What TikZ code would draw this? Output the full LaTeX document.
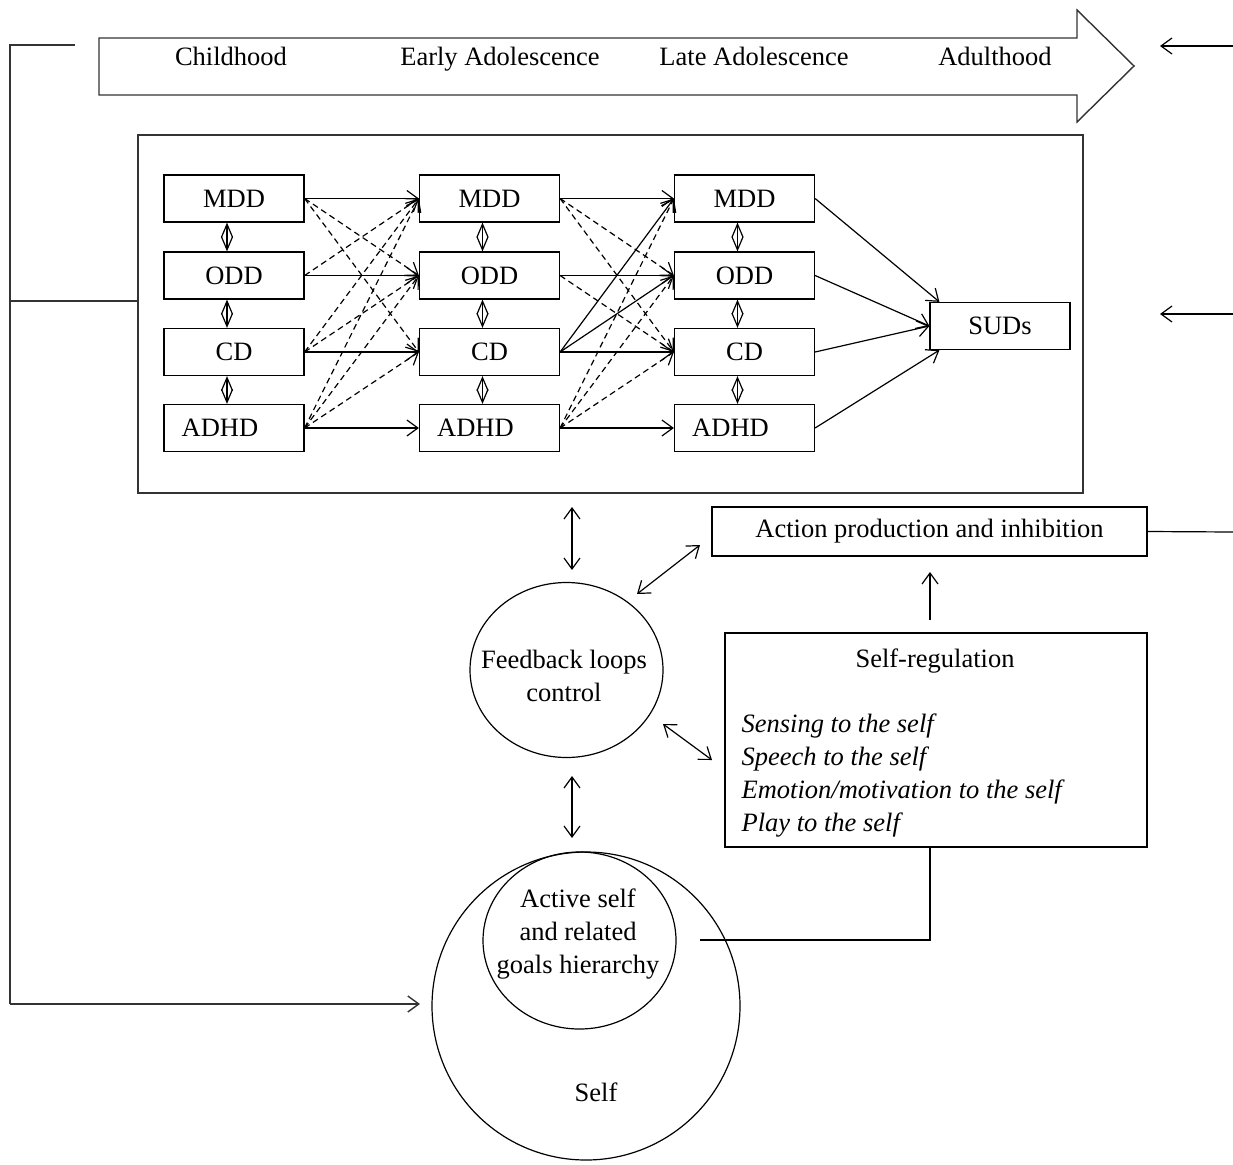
\documentclass[tikz,border=0pt]{standalone}
\usepackage{fontspec}
\setmainfont{Liberation Serif}
\usetikzlibrary{arrows.meta,shapes.geometric}
\begin{document}
\begin{tikzpicture}[x=1pt,y=-1pt,line width=1.2pt,
  font=\fontsize{26.5}{33}\selectfont,
  >={Straight Barb[length=11pt,width=16pt]},
  disbox/.style={draw,minimum width=140pt,minimum height=47pt,inner sep=0pt},
  diam/.style={arrows={Straight Barb[length=13pt,width=11pt]-Straight Barb[length=13pt,width=11pt]}},
  dsh/.style={->,dash pattern=on 6pt off 4pt},
  frame/.style={draw=black!80,line width=1.4pt},
  stage/.style={anchor=base},
  item/.style={anchor=base west,inner sep=0pt,font=\fontsize{26.5}{33}\selectfont\itshape}]
\useasboundingbox (0,0) rectangle (1233,1164);

% developmental timeline arrow
\draw[frame] (99,38) -- (1077,38) -- (1077,10) -- (1134,66) -- (1077,122)
  -- (1077,95) -- (99,95) -- cycle;
\node[stage] (t1) at (231,66) {Childhood};
\node[stage] (t2) at (500,66) {Early Adolescence};
\node[stage] (t3) at (754,66) {Late Adolescence};
\node[stage] (t4) at (995,66) {Adulthood};

% frame around the disorder network
\node[frame,minimum width=945pt,minimum height=358pt,inner sep=0pt] (net) at (610.5,314) {};

% disorder boxes, three developmental stages
\foreach \c/\x in {1/234,2/489.5,3/744.5}{
  \node[disbox] (m\c) at (\x,198.5) {MDD};
  \node[disbox] (o\c) at (\x,275.5) {ODD};
  \node[disbox] (c\c) at (\x,352) {CD};
  \node[disbox] (a\c) at (\x,428) {ADHD\hspace*{28pt}};
  \draw[diam] ([xshift=-7pt]m\c.south) -- ([xshift=-7pt]o\c.north);
  \draw[diam] ([xshift=-7pt]o\c.south) -- ([xshift=-7pt]c\c.north);
  \draw[diam] ([xshift=-7pt]c\c.south) -- ([xshift=-7pt]a\c.north);
}
\node[disbox] (sud) at (1000,326) {SUDs};

% continuity paths
\foreach \p/\q in {1/2,2/3}{
  \draw[->] (m\p.east) -- (m\q.west);
  \draw[->] (o\p.east) -- (o\q.west);
  \draw[->] (c\p.east) -- (c\q.west);
  \draw[->] (a\p.east) -- (a\q.west);
  \draw[dsh] (m\p.east) -- (o\q.west);
  \draw[dsh] (m\p.east) -- (c\q.west);
  \draw[dsh] (a\p.east) -- (m\q.west);
  \draw[dsh] (a\p.east) -- (o\q.west);
  \draw[dsh] (a\p.east) -- (c\q.west);
}
% childhood -> early adolescence
\draw[dsh] (o1.east) -- (m2.west);
\draw[dsh] (c1.east) -- (m2.west);
\draw[dsh] (c1.east) -- (o2.west);
% early -> late adolescence
\draw[dsh] (o2.east) -- (c3.west);
\draw[->] (c2.east) -- (m3.west);
\draw[->] (c2.east) -- (o3.west);

% late adolescence -> substance use disorders
\draw[->] (m3.east) -- ([xshift=10pt]sud.north west);
\draw[->] (o3.east) -- (sud.west);
\draw[->] (c3.east) -- (sud.west);
\draw[->] (a3.east) -- ([xshift=10pt]sud.south west);

% side connectors
\coordinate (l0) at (75,45);
\coordinate (l1) at (10,301);
\coordinate (l2) at (420,1004);
\draw[frame] (l0) -- (10,45) -- (10,1004);
\draw[frame,->] (10,1004) -- (l2);
\draw[frame] (l1) -- (net.west |- l1);
\coordinate (r1a) at (1233,46);  \coordinate (r1b) at (1160,46);
\coordinate (r2a) at (1233,314); \coordinate (r2b) at (1160,314);
\draw[->] (r1a) -- (r1b);
\draw[->] (r2a) -- (r2b);

% self-regulation model
\node[draw,ellipse,minimum width=193pt,minimum height=175pt,inner sep=0pt] (fb) at (566.5,670) {};
\node[align=center] (fbt) at (564,676) {Feedback loops\\control};
\node[draw,minimum width=435pt,minimum height=49pt,inner sep=0pt] (act) at (929.5,531.5) {Action production and inhibition};
\draw (act.east) -- (1233,532);
\node[draw,minimum width=422pt,minimum height=214pt,inner sep=0pt] (sr) at (936,740) {};
\node[anchor=base] (srt) at (935,667) {Self-regulation};
\node[item] (s1) at (741,732) {Sensing to the self};
\node[item] (s2) at (741,765) {Speech to the self};
\node[item] (s3) at (741,798) {Emotion/motivation to the self};
\node[item] (s4) at (741,831) {Play to the self};

\node[draw,circle,minimum size=308pt,inner sep=0pt] (self) at (586,1006) {};
\node[draw,ellipse,minimum width=193pt,minimum height=177pt,inner sep=0pt] (act2) at (579.5,940.5) {};
\node[align=center] (at) at (578,934) {Active self\\and related\\goals hierarchy};
\node (st) at (596,1092) {Self};

% links between the components
\coordinate (v1a) at (572,507); \coordinate (v1b) at (572,570);
\coordinate (v2a) at (572,776); \coordinate (v2b) at (572,838);
\draw[<->] (v1a) -- (v1b);
\draw[<->] (v2a) -- (v2b);
\coordinate (d1a) at (637,594); \coordinate (d1b) at (700,545);
\coordinate (d2a) at (663,724); \coordinate (d2b) at (712,760);
\draw[<->] (d1a) -- (d1b);
\draw[<->] (d2a) -- (d2b);
\coordinate (u1) at (930,620); \coordinate (u2) at (930,572);
\draw[->] (u1) -- (u2);
\coordinate (g1) at (930,848); \coordinate (g2) at (700,940);
\draw (g1) |- (g2);
\end{tikzpicture}
\end{document}
